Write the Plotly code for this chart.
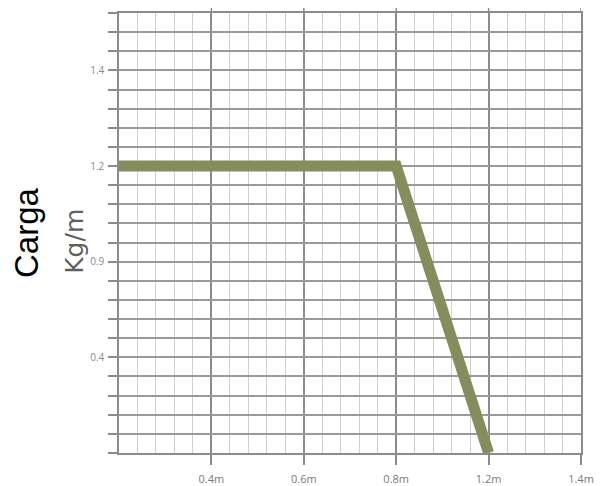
import numpy as np
import plotly.graph_objects as go

# ---- data ----
x_tick_labels = ["0.4m", "0.6m", "0.8m", "1.2m", "1.4m"]
x_tick_values = [0.4, 0.6, 0.8, 1.2, 1.4]
x_origin = 0.2
y_tick_labels = ["0.4", "0.9", "1.2", "1.4"]
y_tick_values = [0.4, 0.9, 1.2, 1.4]
y_origin = 0.0

length_m = [0.2, 0.8, 1.2]
load_kgm = [1.2, 1.2, 0.0]

# ---- scales (labels are evenly spaced on the picture) ----
x_ref = [x_origin] + x_tick_values
x_pos_ref = list(range(len(x_ref)))            # 0..5
y_ref = [y_origin] + y_tick_values
y_pos_ref = [5 * i for i in range(len(y_ref))]  # 0,5,10,15,20

x_plot = np.interp(length_m, x_ref, x_pos_ref)
y_plot = np.interp(load_kgm, y_ref, y_pos_ref)

y_top = 23
y_all_ticks = list(range(0, y_top + 1))
y_all_text = []
for v in y_all_ticks:
    if v in y_pos_ref[1:]:
        y_all_text.append(y_tick_labels[y_pos_ref[1:].index(v)])
    else:
        y_all_text.append("")

fig = go.Figure()
fig.add_trace(go.Scatter(
    x=x_plot, y=y_plot, mode="lines",
    line=dict(color="#868d5c", width=11),
    hoverinfo="skip", showlegend=False,
))

L, R, T, B = 111, 25, 5, 33
W, H = 598, 478
PW = W - L - R

major_col = "#8c8c8c"
fig.update_layout(
    width=W, height=H,
    margin=dict(l=L, r=R, t=T, b=B, autoexpand=False),
    paper_bgcolor="white", plot_bgcolor="white",
    showlegend=False,
    xaxis=dict(
        automargin=False,
        range=[0, len(x_ref) - 1],
        tickvals=x_pos_ref[1:], ticktext=x_tick_labels,
        ticks="outside", ticklen=10, tickcolor=major_col, tickwidth=1.5,
        ticklabelstandoff=5,
        showgrid=True, gridcolor=major_col, gridwidth=1.5,
        minor=dict(dtick=0.2, showgrid=True, gridcolor="#cfcfcf", gridwidth=1, ticks=""),
        showline=True, linecolor=major_col, linewidth=1.5, mirror=True,
        zeroline=False,
        tickfont=dict(family="Open Sans", size=11, color="#7a7a7a"),
    ),
    yaxis=dict(
        automargin=False,
        range=[0, y_top],
        tickvals=y_all_ticks, ticktext=y_all_text,
        ticks="outside", ticklen=9, tickcolor=major_col, tickwidth=1.5,
        ticklabelstandoff=2,
        showgrid=True, gridcolor="#9a9a9a", gridwidth=1.5,
        showline=True, linecolor=major_col, linewidth=1.5, mirror=True,
        zeroline=False,
        tickfont=dict(family="Open Sans", size=10, color="#8a8a8a"),
    ),
)

# major vertical lines poke slightly above the top border
for xv in x_pos_ref[1:]:
    fig.add_shape(type="line", xref="x", yref="paper", x0=xv, x1=xv, y0=1, y1=1.02,
                  line=dict(color=major_col, width=1.5))

fig.add_annotation(text="Carga", xref="paper", yref="paper",
                   x=(18 - L) / PW, y=0.5, xanchor="center", yanchor="middle",
                   textangle=-90, showarrow=False,
                   font=dict(family="Liberation Sans", size=33, color="black"))
fig.add_annotation(text="Kg/m", xref="paper", yref="paper",
                   x=(67 - L) / PW, y=0.48, xanchor="center", yanchor="middle",
                   textangle=-90, showarrow=False,
                   font=dict(family="DejaVu Sans", size=25, color="#5f5f5f"))

fig.write_html("out.html")
